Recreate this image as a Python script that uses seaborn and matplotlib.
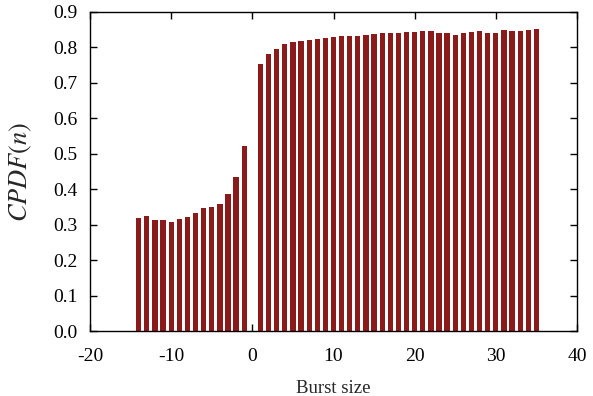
import matplotlib
matplotlib.use('Agg')
import matplotlib.pyplot as plt
import seaborn as sns
import pandas as pd

# Данные
burst_neg = list(range(-14, 0))
cpdf_neg = [0.319, 0.324, 0.312, 0.312, 0.308, 0.315, 0.322, 0.332,
            0.348, 0.350, 0.358, 0.387, 0.435, 0.522]
burst_pos = list(range(1, 36))
cpdf_pos = [0.752, 0.781, 0.797, 0.809, 0.815, 0.817, 0.820, 0.824, 0.827,
            0.829, 0.831, 0.832, 0.832, 0.834, 0.837, 0.840, 0.840, 0.842,
            0.843, 0.843, 0.846, 0.845, 0.841, 0.840, 0.836, 0.842, 0.843,
            0.845, 0.841, 0.841, 0.848, 0.845, 0.846, 0.848, 0.853]
x_ticks = [-20, -10, 0, 10, 20, 30, 40]
y_ticks = [0.0, 0.1, 0.2, 0.3, 0.4, 0.5, 0.6, 0.7, 0.8, 0.9]

df = pd.DataFrame({'burst': burst_neg + burst_pos,
                   'cpdf': cpdf_neg + cpdf_pos})

sns.set_style('ticks')
plt.rcParams['font.family'] = ['Liberation Serif', 'DejaVu Serif']
plt.rcParams['mathtext.fontset'] = 'stix'

fig = plt.figure(figsize=(5.93, 3.96), dpi=100)
ax = fig.add_axes([90 / 593, 1 - 331 / 396, 487 / 593, 319 / 396])

sns.barplot(data=df, x='burst', y='cpdf', native_scale=True, width=0.65,
            color='#8b1a1a', saturation=1, edgecolor='none', ax=ax)

ax.set_xlim(-20, 40)
ax.set_ylim(0, 0.9)
ax.set_xticks(x_ticks)
ax.set_xticklabels([str(t) for t in x_ticks])
ax.set_yticks(y_ticks)
ax.set_yticklabels(['%.1f' % t for t in y_ticks])
ax.tick_params(direction='in', length=5, width=1, top=True, right=True,
               labelsize=14, colors='black')
ax.tick_params(axis='y', pad=9)
ax.tick_params(axis='x', pad=12)
for s in ax.spines.values():
    s.set_visible(True)
    s.set_linewidth(1)
    s.set_color('black')

ax.set_xlabel('Burst size', fontsize=13.5, labelpad=11)
ax.set_ylabel(r'$CPDF(n)$', fontsize=19, labelpad=14)

fig.savefig('out.png', dpi=100)
